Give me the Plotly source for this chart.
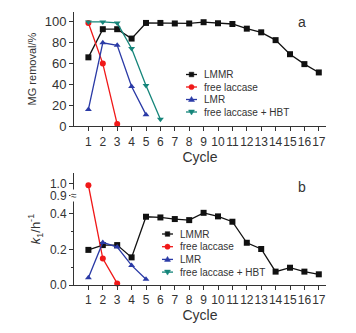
import plotly.graph_objects as go

cycles = list(range(1, 18))

# Panel a: MG removal (%)
lmmr_removal = [66, 93, 93, 84, 99, 99, 98.5, 98.5, 99.7, 98.7, 98, 93.5, 90, 82.5, 69, 59.5, 51.5]
free_removal = [99, 60, 2]
lmr_removal = [16, 80, 77.5, 38, 11]
hbt_removal = [100, 100, 99, 74.5, 39, 6.5]

# Panel b: k1 (h^-1)
lmmr_k1 = [0.197, 0.224, 0.224, 0.155, 0.383, 0.379, 0.370, 0.364, 0.405, 0.385, 0.355, 0.237, 0.202, 0.075, 0.097, 0.075, 0.06]
free_k1 = [0.985, 0.148, 0.009]
lmr_k1 = [0.041, 0.239, 0.213, 0.11, 0.032]

k1_ticks = [0.0, 0.2, 0.4, 0.9, 1.0]
k1_ticktext = ["0.0", "0.2", "0.4", "0.9", "1.0"]
x_ticktext = [str(c) for c in cycles]
series_names = ["LMMR", "free laccase", "LMR", "free laccase + HBT"]

# broken axis: lower segment linear, upper (>=0.9) compressed segment
BREAK_LO = 0.9
UPPER_BASE = 0.501
UPPER_SCALE = 0.69


def brk(v):
    if v is None:
        return None
    if v >= BREAK_LO:
        return UPPER_BASE + (v - BREAK_LO) * UPPER_SCALE
    return v


COL = {"LMMR": "#111111", "free laccase": "#f01818", "LMR": "#2a3aa6", "free laccase + HBT": "#15857a"}
SYM = {"LMMR": "square", "free laccase": "circle", "LMR": "triangle-up", "free laccase + HBT": "triangle-down"}

FONT = "Liberation Sans, Arial, sans-serif"
PAGE_OFF = 8  # default page body margin of the html page
W, H = 356 - PAGE_OFF, 333 - PAGE_OFF
ML, MR, MT, MB = 74 - PAGE_OFF, 30, 12 - PAGE_OFF, 48
PW, PH = W - ML - MR, H - MT - MB

fig = go.Figure()


def add(name, ys, xaxis, yaxis, size=6):
    xs = cycles[:len(ys)]
    fig.add_trace(go.Scatter(
        x=xs, y=ys, name=name, mode="lines+markers", showlegend=False,
        xaxis=xaxis, yaxis=yaxis, cliponaxis=False,
        line=dict(color=COL[name], width=1.3),
        marker=dict(symbol=SYM[name], size=size, color=COL[name]),
    ))


add("LMMR", lmmr_removal, "x", "y")
add("free laccase", free_removal, "x", "y")
add("LMR", lmr_removal, "x", "y")
add("free laccase + HBT", hbt_removal, "x", "y")

add("LMMR", [brk(v) for v in lmmr_k1], "x2", "y2")
add("free laccase", [brk(v) for v in free_k1], "x2", "y2")
add("LMR", [brk(v) for v in lmr_k1], "x2", "y2")

# ---- compact legends (drawn as layout shapes + text) ----
shapes = []
annotations = []


def px(xp):
    return (xp - PAGE_OFF - ML) / PW


def py(yp):
    return (H + PAGE_OFF - MB - yp) / PH


def legend_block(x_line0, x_line1, x_text, y_first, dy):
    for i, name in enumerate(series_names):
        yy = py(y_first + i * dy)
        c = COL[name]
        shapes.append(dict(type="line", xref="paper", yref="paper",
                           x0=px(x_line0), x1=px(x_line1), y0=yy, y1=yy,
                           line=dict(color=c, width=1.3)))
        xm = px((x_line0 + x_line1) / 2)
        common = dict(xref="paper", yref="paper", xsizemode="pixel", ysizemode="pixel",
                      xanchor=xm, yanchor=yy, fillcolor=c, line=dict(color=c, width=0.5))
        s = SYM[name]
        if s == "square":
            shapes.append(dict(type="rect", x0=-2.3, x1=2.3, y0=-2.3, y1=2.3, **common))
        elif s == "circle":
            shapes.append(dict(type="circle", x0=-2.6, x1=2.6, y0=-2.6, y1=2.6, **common))
        elif s == "triangle-up":
            shapes.append(dict(type="path", path="M-3,-2 L3,-2 L0,3 Z", **common))
        else:
            shapes.append(dict(type="path", path="M-3,2 L3,2 L0,-3 Z", **common))
        annotations.append(dict(text=name, xref="paper", yref="paper", x=px(x_text), y=yy,
                                xanchor="left", yanchor="middle", showarrow=False,
                                font=dict(size=10, color="#333", family=FONT)))


legend_block(186, 197, 202, 74.5, 12.5)
legend_block(162, 173, 178, 234, 12.7)

annotations += [
    dict(text="a", xref="paper", yref="paper", x=px(302), y=py(22), showarrow=False,
         xanchor="center", yanchor="middle",
         font=dict(size=14, color="#333", family=FONT)),
    dict(text="b", xref="paper", yref="paper", x=px(302), y=py(187), showarrow=False,
         xanchor="center", yanchor="middle",
         font=dict(size=14, color="#333", family=FONT)),
    dict(text="≈", xref="x2 domain", yref="y2", x=0, y=brk(0.9), showarrow=False,
         xanchor="center", yanchor="middle",
         font=dict(size=10, color="#333"), bgcolor="white", borderpad=0),
]

xcommon = dict(range=[0, 17.5], tickmode="array", tickvals=cycles, ticktext=x_ticktext,
               tickangle=0,
               showline=True, linecolor="#333", linewidth=1, ticks="outside", ticklen=4,
               tickcolor="#333", showgrid=False, zeroline=False,
               tickfont=dict(size=12, color="#333", family=FONT))

fig.update_layout(
    width=W, height=H,
    margin=dict(l=ML, r=MR, t=MT, b=MB),
    paper_bgcolor="white", plot_bgcolor="white",
    font=dict(family=FONT, color="#333"),
    showlegend=False,
    xaxis=dict(domain=[0, 1], anchor="y",
               title=dict(text="Cycle", font=dict(size=14, color="#333"), standoff=0), **xcommon),
    xaxis2=dict(domain=[0, 1], anchor="y2",
                title=dict(text="Cycle", font=dict(size=14, color="#333"), standoff=0), **xcommon),
    yaxis=dict(domain=[0.582, 1.0], anchor="x", range=[0, 109.5],
               tickvals=[0, 20, 40, 60, 80, 100],
               showline=True, linecolor="#333", linewidth=1, ticks="outside", ticklen=4,
               tickcolor="#333", showgrid=False, zeroline=False,
               tickfont=dict(size=13, color="#333", family=FONT),
               title=dict(text="MG removal/%", font=dict(size=11, color="#333"), standoff=5)),
    yaxis2=dict(domain=[0, 0.410], anchor="x2", range=[0, 0.628],
                tickmode="array", tickvals=[brk(v) for v in k1_ticks], ticktext=k1_ticktext,
                minor=dict(tickmode="array", tickvals=[0.1, 0.3], ticks="outside", ticklen=2, tickcolor="#333"),
                showline=True, linecolor="#333", linewidth=1, ticks="outside", ticklen=4,
                tickcolor="#333", showgrid=False, zeroline=False,
                tickfont=dict(size=12, color="#333", family=FONT),
                title=dict(text="<i>k</i><sub>1</sub>/h<sup>-1</sup>", font=dict(size=13, color="#333"), standoff=6)),
    shapes=shapes,
    annotations=annotations,
)

fig.write_html("out.html")
